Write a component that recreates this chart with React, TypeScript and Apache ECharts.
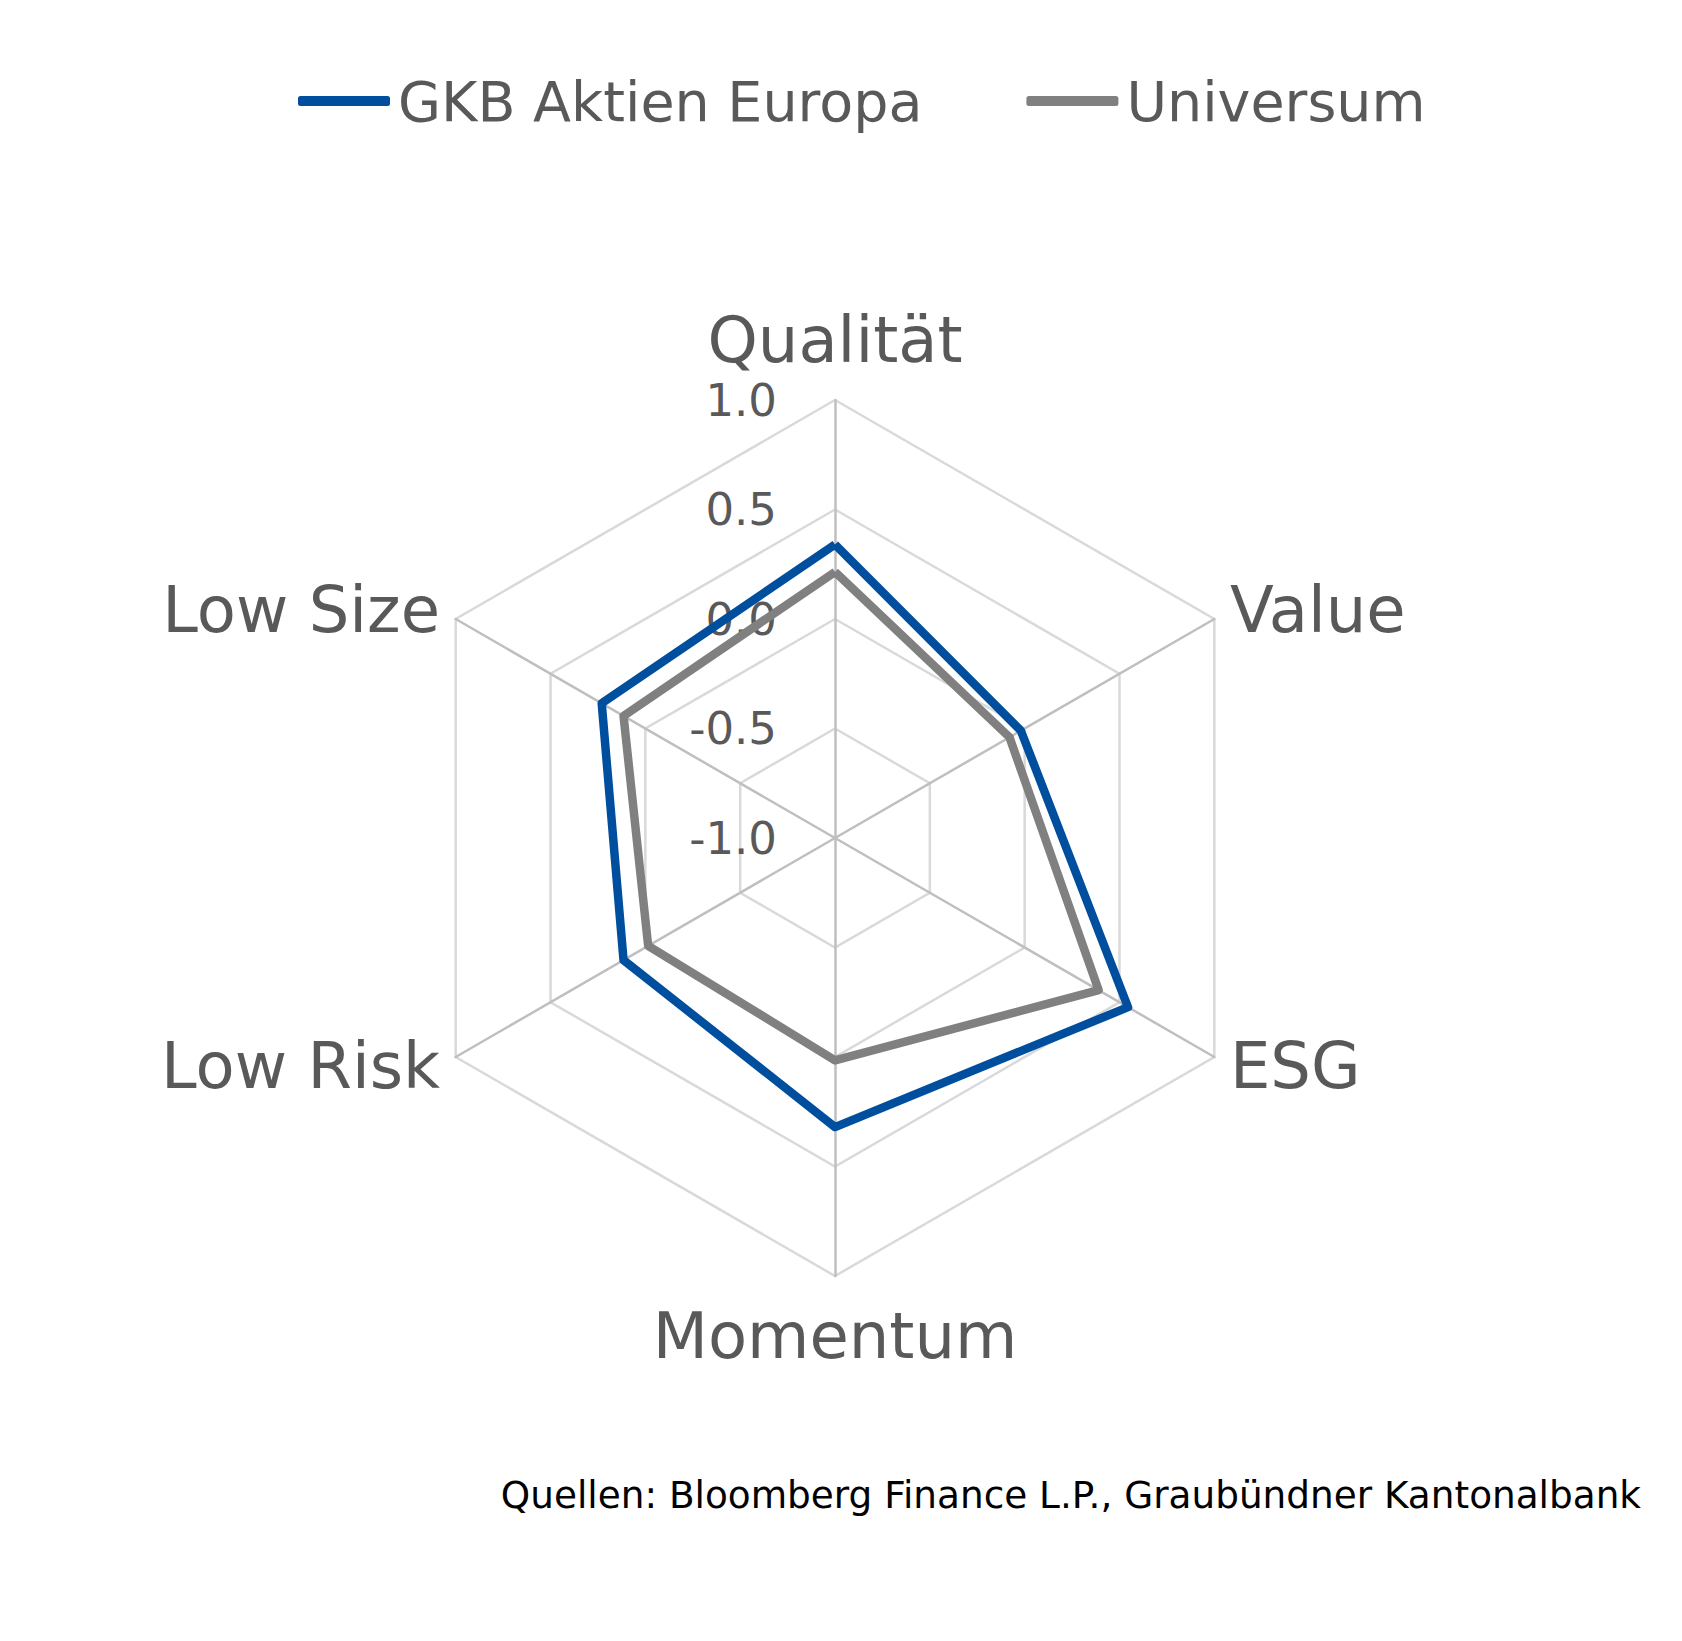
import React, { useEffect, useRef } from "react";
import * as echarts from "echarts";

// Indicators listed counter-clockwise from the top (ECharts radar order)
const indicatorNames = ["Qualität", "Low Size", "Low Risk", "Momentum", "ESG", "Value"];
const seriesNames = ["GKB Aktien Europa", "Universum"];
const gkbValues = [0.34, 0.23, 0.115, 0.32, 0.545, -0.02];
const universumValues = [0.215, 0.115, -0.015, 0.015, 0.39, -0.08];
const axisMin = -1;
const axisMax = 1;
const sourceText = "Quellen: Bloomberg Finance L.P., Graubündner Kantonalbank";

const FONT = "'DejaVu Sans', Verdana, sans-serif";
const TEXT = "#595959";
const BLUE = "#004f9e";
const GREY = "#808080";

export default function App() {
  const ref = useRef<HTMLDivElement>(null);
  useEffect(() => {
    document.body.style.margin = "0";
    const chart = echarts.init(ref.current!, null, { renderer: "svg" });
    chart.setOption({
      animation: false,
      backgroundColor: "#ffffff",
      legend: {
        left: 293,
        top: 68,
        itemWidth: 92,
        itemHeight: 10,
        itemGap: 104,
        icon: "roundRect",
        data: seriesNames,
        textStyle: { color: TEXT, fontSize: 55.5, fontFamily: FONT, padding: [0, 0, 0, 3] },
      },
      radar: {
        center: [835, 838],
        radius: 438,
        startAngle: 90,
        shape: "polygon",
        splitNumber: 4,
        axisName: { color: TEXT, fontSize: 64, fontFamily: FONT, padding: [10, 0, 10, 0] },
        nameGap: 18,
        axisLine: { show: true, lineStyle: { color: "#bfbfbf", width: 2.5 } },
        splitLine: { lineStyle: { color: "#d9d9d9", width: 2.5 } },
        splitArea: { show: false },
        axisTick: { show: false },
        axisLabel: {
          show: true,
          color: TEXT,
          fontSize: 45,
          fontFamily: FONT,
          margin: 58,
          formatter: (v: number) => v.toFixed(1),
        },
        indicator: indicatorNames.map((name, i) => ({
          name,
          min: axisMin,
          max: axisMax,
          axisLabel: i === 0 ? { show: true } : { show: false },
        })),
      },
      series: [
        {
          type: "radar",
          symbol: "none",
          data: [
            {
              name: seriesNames[0],
              value: gkbValues,
              lineStyle: { color: BLUE, width: 8.5 },
              itemStyle: { color: BLUE },
            },
            {
              name: seriesNames[1],
              value: universumValues,
              lineStyle: { color: GREY, width: 8.5 },
              itemStyle: { color: GREY },
            },
          ],
        },
      ],
      graphic: [
        {
          type: "text",
          right: 41,
          top: 1476,
          style: { text: sourceText, fill: "#000000", font: `37.4px ${FONT}` },
        },
      ],
    });
    return () => chart.dispose();
  }, []);
  return <div ref={ref} style={{ width: 1682, height: 1641 }} />;
}
